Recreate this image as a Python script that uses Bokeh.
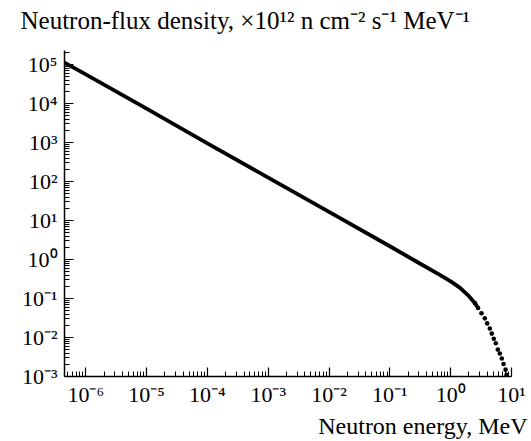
from bokeh.plotting import figure
from bokeh.models import (Range1d, FixedTicker, CustomJSTickFormatter, Title,
                          ColumnDataSource)
from bokeh.embed import file_html
from bokeh.resources import INLINE

# ---- data ----
# main (dense) part of the spectrum: energy in MeV, flux in 1e12 n cm^-2 s^-1 MeV^-1
line_energy = [4.47e-7, 1e-6, 1e-5, 1e-4, 1e-3, 1e-2, 1e-1, 0.316, 0.631, 1.0,
               1.41, 2.0, 2.51, 2.82]
line_flux = [1.12e5, 5.6e4, 7.4e3, 955.0, 126.0, 16.6, 2.19, 0.78, 0.42, 0.275,
             0.19, 0.115, 0.076, 0.057]
# fission tail drawn as separate dots
tail_energy = [2.51, 2.82, 3.21, 3.64, 3.98, 4.40, 4.74, 5.12, 5.52, 5.96,
               6.43, 6.93, 7.40, 7.98, 8.28]
tail_flux = [0.076, 0.057, 0.042, 0.031, 0.023, 0.017, 0.0126, 0.0093,
             0.0071, 0.0049, 0.0039, 0.0029, 0.0021, 0.0015, 0.0011]

x_ticks = [1e-6, 1e-5, 1e-4, 1e-3, 1e-2, 1e-1, 1e0, 1e1]
x_tick_labels = ["10⁻⁶", "10⁻⁵", "10⁻⁴", "10⁻³", "10⁻²", "10⁻¹", "10⁰", "10¹"]
y_ticks = [1e-3, 1e-2, 1e-1, 1e0, 1e1, 1e2, 1e3, 1e4, 1e5]
y_tick_labels = ["10⁻³", "10⁻²", "10⁻¹", "10⁰", "10¹", "10²", "10³", "10⁴", "10⁵"]

title_text = "Neutron-flux density, ×10¹² n cm⁻² s⁻¹ MeV⁻¹"
x_label_text = "Neutron energy, MeV"

x_min, x_max = 4.47e-7, 10.0
y_min, y_max = 1e-3, 2.3e5

FONT = "Liberation Serif"

p = figure(width=530, height=440, x_axis_type="log", y_axis_type="log",
           x_range=Range1d(x_min, x_max), y_range=Range1d(y_min, y_max),
           output_backend="svg", toolbar_location=None,
           min_border_left=64, min_border_right=19, min_border_top=50,
           min_border_bottom=63)
p.outline_line_color = None
p.grid.visible = False
p.background_fill_color = "white"
p.border_fill_color = "white"

def minor(decades):
    return [m * 10.0 ** d for d in decades for m in range(2, 10)]

p.xaxis.ticker = FixedTicker(ticks=x_ticks, minor_ticks=minor(range(-7, 1)))
p.yaxis.ticker = FixedTicker(ticks=y_ticks, minor_ticks=minor(range(-3, 6)))

fmt_code = """
const lt = Math.log10(tick);
for (let i = 0; i < vals.length; i++) {
  if (Math.abs(Math.log10(vals[i]) - lt) < 1e-6) return labels[i];
}
return "";
"""
p.xaxis.formatter = CustomJSTickFormatter(args=dict(vals=x_ticks, labels=x_tick_labels), code=fmt_code)
p.yaxis.formatter = CustomJSTickFormatter(args=dict(vals=y_ticks, labels=y_tick_labels), code=fmt_code)

for ax in (p.xaxis[0], p.yaxis[0]):
    ax.axis_line_color = "black"
    ax.axis_line_width = 1.5
    ax.major_tick_line_color = "black"
    ax.minor_tick_line_color = "black"
    ax.major_tick_line_width = 1.2
    ax.minor_tick_line_width = 1.0
    ax.major_tick_in = 9
    ax.major_tick_out = 0
    ax.minor_tick_in = 5
    ax.minor_tick_out = 0
    ax.major_label_text_font = FONT
    ax.major_label_text_font_size = "22px"
    ax.major_label_text_color = "black"
p.xaxis.major_label_standoff = 5
p.yaxis.major_label_standoff = 7

src_line = ColumnDataSource(dict(e=line_energy, f=line_flux))
src_tail = ColumnDataSource(dict(e=tail_energy, f=tail_flux))
p.line("e", "f", source=src_line, line_color="black", line_width=3.8)
p.scatter("e", "f", source=src_tail, size=4.6, fill_color="black",
          line_color=None)

# blank spacer between the frame and the title (keeps the title high)
spacer = Title(text=" ", text_font=FONT, text_font_size="14px", standoff=0)
p.add_layout(spacer, "above")
top_title = Title(text=title_text, align="left", offset=-44,
                  text_font=FONT, text_font_size="25px", text_color="black",
                  text_font_style="normal", standoff=0)
p.add_layout(top_title, "above")
bottom_title = Title(text=x_label_text, align="right", offset=-16,
                     text_font=FONT, text_font_size="24px", text_color="black",
                     text_font_style="normal", standoff=3)
p.add_layout(bottom_title, "below")

open("out.html", "w").write(file_html(p, INLINE))
